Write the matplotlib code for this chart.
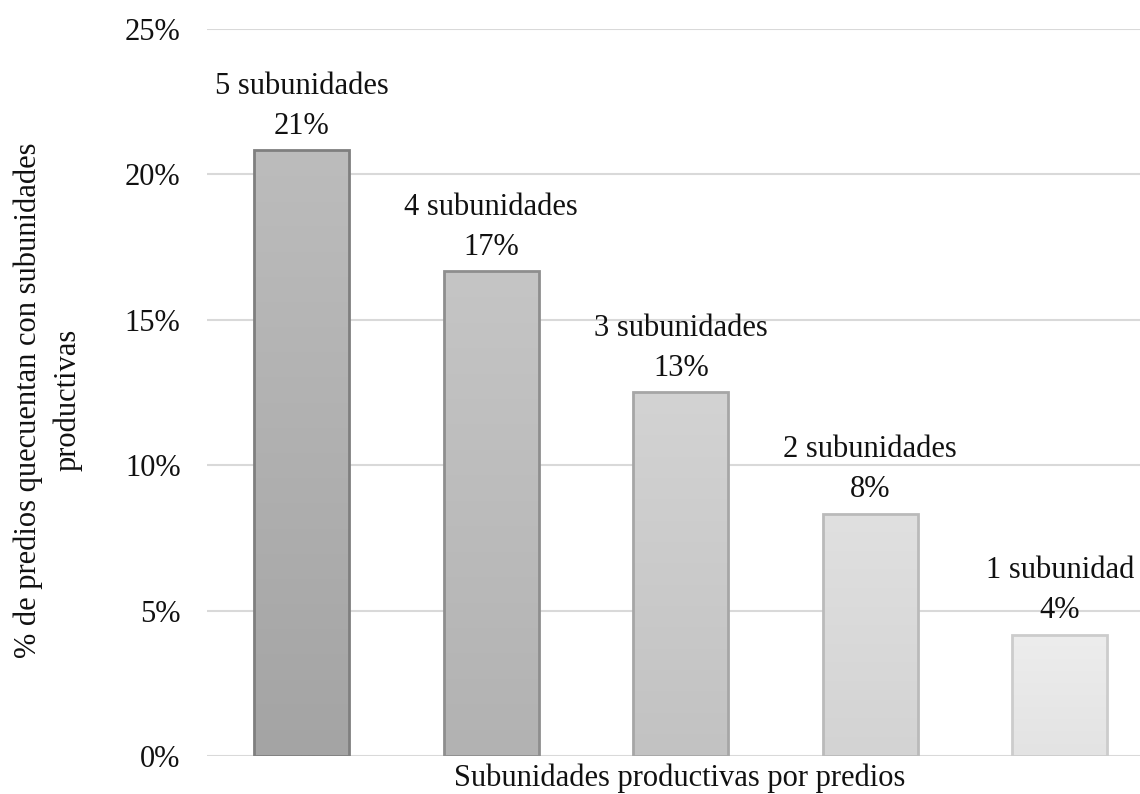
import math
import numpy as np
import matplotlib
matplotlib.use("Agg")
import matplotlib.pyplot as plt
from matplotlib.colors import LinearSegmentedColormap

categories = ["5 subunidades", "4 subunidades", "3 subunidades", "2 subunidades", "1 subunidad"]
values = [20.83, 16.67, 12.5, 8.33, 4.17]
y_ticks = [0, 5, 10, 15, 20, 25]

# top / bottom gradient shades and outline for each bar
top_colors = ["#bcbcbc", "#c5c5c5", "#d3d3d3", "#e0e0e0", "#ededed"]
bottom_colors = ["#a4a4a4", "#b2b2b2", "#c2c2c2", "#d3d3d3", "#e3e3e3"]
edge_colors = ["#7f7f7f", "#8e8e8e", "#a6a6a6", "#bababa", "#cccccc"]

plt.rcParams["font.family"] = ["Liberation Serif", "DejaVu Serif"]
FS = 22

W, H = 1140, 794
fig = plt.figure(figsize=(W / 100, H / 100), dpi=100)
left, right = 207, 1154.5
bottom, top = 756, 29
ax = fig.add_axes([left / W, 1 - bottom / H, (right - left) / W, (bottom - top) / H])

x = np.arange(len(categories))
bar_w = 0.5
bars = ax.bar(x, values, width=bar_w, color="none", edgecolor="none", zorder=3)

for i, (b, v) in enumerate(zip(bars, values)):
    cmap = LinearSegmentedColormap.from_list(f"g{i}", [bottom_colors[i], top_colors[i]])
    grad = np.linspace(0, 1, 256).reshape(-1, 1)
    im = ax.imshow(grad, cmap=cmap, aspect="auto", origin="lower",
                   extent=[b.get_x(), b.get_x() + b.get_width(), 0, v], zorder=3)
    im.set_clip_path(b)
    ax.bar(x[i], v, width=bar_w, color="none", edgecolor=edge_colors[i],
           linewidth=2, zorder=4)
    pct = math.floor(v + 0.5)
    ax.annotate(f"{categories[i]}\n{pct}%", xy=(x[i], v), xytext=(0, 7),
                textcoords="offset points", ha="center", va="bottom",
                fontsize=FS, linespacing=1.5, color="#111111", zorder=5,
                annotation_clip=False)

ax.set_xlim(-0.5, len(categories) - 0.5)
ax.set_ylim(0, 25)
ax.set_yticks(y_ticks)
ax.set_yticklabels([f"{t}%" for t in y_ticks], fontsize=FS, color="#111111")
ax.set_xticks([])
ax.tick_params(axis="y", length=0, pad=19)
ax.yaxis.grid(True, color="#d9d9d9", linewidth=1.5, zorder=0)
ax.set_axisbelow(True)
for s in ax.spines.values():
    s.set_visible(False)

fig.text(680 / W, 1 - 778 / H, "Subunidades productivas por predios",
         ha="center", va="center", fontsize=FS, color="#111111")
fig.text(48 / W, 1 - 400 / H, "% de predios quecuentan con subunidades\nproductivas",
         ha="center", va="center", rotation=90, fontsize=FS, color="#111111",
         linespacing=1.45)

fig.savefig("out.png", dpi=100)
